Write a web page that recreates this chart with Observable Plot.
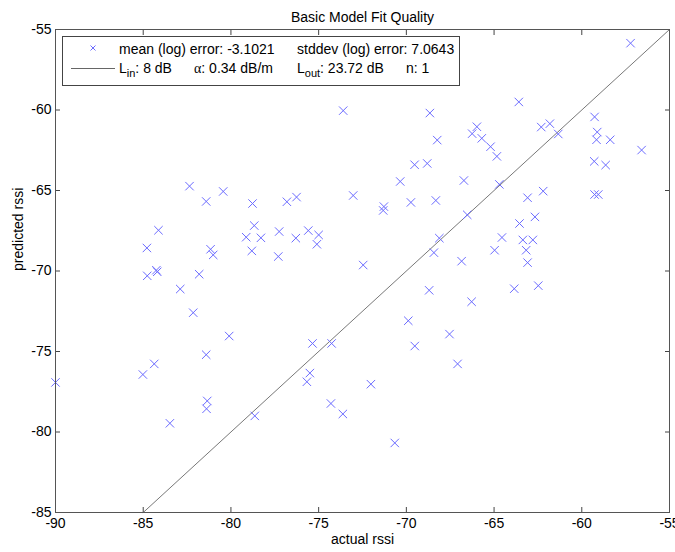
<!DOCTYPE html>
<html>
<head>
<meta charset="utf-8">
<script src="https://cdn.jsdelivr.net/npm/d3@7"></script>
<script src="https://cdn.jsdelivr.net/npm/@observablehq/plot@0.6"></script>
<style>
  body { margin: 0; background: #fff; }
  #wrap { position: relative; width: 675px; height: 552px; font-family: "Liberation Sans", Arial, sans-serif; }
  #legend { position: absolute; left: 62px; top: 36px; width: 396px; height: 48px; border: 1px solid #444; background: #fff; font-size: 14px; color: #000; }
  #legend .t { position: absolute; line-height: 16px; white-space: nowrap; }
  #legend sub { font-size: 11px; vertical-align: -4px; line-height: 0; }
  #legend .ln { position: absolute; left: 8px; top: 31px; width: 44px; height: 0; border-top: 1px solid #666; }
  #legend svg { position: absolute; left: 26px; top: 7px; }
</style>
</head>
<body>
<div id="wrap"></div>
<script>
// actual rssi (x) and predicted rssi (y)
const actual = [
  -90.0, -85.02, -84.37, -84.79, -84.77, -84.25, -84.2, -84.13, -83.48, -82.89,
  -82.36, -82.15, -81.81, -81.41, -81.41, -81.35, -81.39, -81.16, -81.01, -80.44,
  -80.1, -78.77, -78.67, -79.13, -78.29, -78.81, -78.64, -77.25, -77.3, -76.81,
  -76.26, -76.3, -75.59, -75.0, -75.1, -75.5, -75.67, -75.35, -74.26, -74.3,
  -73.62, -73.6, -73.03, -72.46, -72.02, -71.28, -71.32, -70.66, -70.35, -69.89,
  -69.74, -69.53, -69.52, -68.81, -68.66, -68.7, -68.43, -68.32, -68.24, -68.12,
  -67.54, -67.08, -66.85, -66.72, -66.53, -66.28, -66.25, -65.98, -65.7, -65.2,
  -64.84, -64.7, -64.97, -64.55, -63.85, -63.59, -63.55, -63.36, -63.17, -63.09,
  -63.09, -62.79, -62.67, -62.48, -62.31, -62.2, -61.82, -61.34, -59.27, -59.12,
  -59.16, -58.38, -59.29, -58.64, -59.27, -59.06, -56.59, -57.22
];
const predicted = [
  -76.92, -76.43, -75.77, -68.57, -70.3, -69.95, -70.05, -67.47, -79.46, -71.12,
  -64.73, -72.59, -70.2, -65.68, -75.2, -78.07, -78.56, -68.65, -69.0, -65.06,
  -74.04, -65.81, -67.18, -67.9, -67.94, -68.75, -79.0, -67.55, -69.1, -65.7,
  -65.41, -67.96, -67.49, -67.76, -68.34, -76.34, -76.88, -74.5, -74.5, -78.23,
  -78.88, -60.04, -65.31, -69.63, -77.03, -66.0, -66.24, -80.68, -64.44, -73.09,
  -65.74, -63.4, -74.66, -63.32, -60.19, -71.2, -68.86, -65.62, -61.87, -67.96,
  -73.92, -75.77, -69.39, -64.38, -66.51, -71.91, -61.47, -61.04, -61.76, -62.28,
  -62.88, -64.62, -68.71, -67.92, -71.1, -59.5, -67.05, -68.07, -68.71, -69.48,
  -65.45, -68.07, -66.64, -70.91, -61.06, -65.04, -60.85, -61.49, -60.43, -61.37,
  -61.85, -61.85, -63.19, -63.42, -65.25, -65.25, -62.49, -55.85
];
// ideal fit line y = x
const fitLine = [-85, -55];

const xTicks = [-90, -85, -80, -75, -70, -65, -60, -55];
const yTicks = [-85, -80, -75, -70, -65, -60, -55];

const title = "Basic Model Fit Quality";
const xLabel = "actual rssi";
const yLabel = "predicted rssi";
const meanErr = "-3.1021";
const stdErr = "7.0643";
const Lin = "8 dB";
const alpha = "0.34 dB/m";
const Lout = "23.72 dB";
const nVal = "1";

const points = actual.map((a, i) => ({x: a, y: predicted[i]}));
const fit = fitLine.map(v => ({x: v, y: v}));
const fmt = d => String(d);
const blank = () => "";

const chart = Plot.plot({
  width: 675,
  height: 552,
  marginLeft: 55,
  marginRight: 6,
  marginTop: 29,
  marginBottom: 40,
  style: {fontFamily: "'Liberation Sans', Arial, sans-serif", fontSize: "14px", color: "#000", background: "#fff"},
  x: {domain: [-90, -55]},
  y: {domain: [-85, -55]},
  marks: [
    Plot.line(fit, {x: "x", y: "y", stroke: "#555", strokeWidth: 0.8}),
    Plot.dot(points, {x: "x", y: "y", symbol: "times", r: 3.9, stroke: "#6b6bff", strokeWidth: 1}),
    Plot.axisX(xTicks, {anchor: "bottom", tickSize: 0, tickPadding: 6, tickFormat: fmt, label: null, fontSize: 14}),
    Plot.axisX(xTicks, {anchor: "bottom", tickSize: -5, tickFormat: blank, label: null, stroke: "#444"}),
    Plot.axisX(xTicks, {anchor: "top", tickSize: -5, tickFormat: blank, label: null, stroke: "#444"}),
    Plot.axisY(yTicks, {anchor: "left", tickSize: 0, tickPadding: 4, tickFormat: fmt, label: null, fontSize: 14}),
    Plot.axisY(yTicks, {anchor: "left", tickSize: -5, tickFormat: blank, label: null, stroke: "#444"}),
    Plot.axisY(yTicks, {anchor: "right", tickSize: -5, tickFormat: blank, label: null, stroke: "#444"}),
    Plot.frame({stroke: "#555", strokeWidth: 1}),
    Plot.text([title], {text: d => d, frameAnchor: "top", dy: -17, fontSize: 14}),
    Plot.text([xLabel], {text: d => d, frameAnchor: "bottom", dy: 31, fontSize: 14}),
    Plot.text([yLabel], {text: d => d, frameAnchor: "left", dx: -37, rotate: -90, fontSize: 14})
  ]
});

const wrap = document.getElementById("wrap");
wrap.appendChild(chart);

const legend = document.createElement("div");
legend.id = "legend";
legend.innerHTML = `
  <svg width="8" height="8" viewBox="0 0 8 8"><path d="M1.5,1.5L6.5,6.5M6.5,1.5L1.5,6.5" stroke="#6b6bff" stroke-width="1" fill="none"/></svg>
  <span class="t" style="left:56px;top:4px">mean (log) error: ${meanErr}</span>
  <span class="t" style="left:234px;top:4px">stddev (log) error: ${stdErr}</span>
  <div class="ln"></div>
  <span class="t" style="left:56px;top:23px">L<sub>in</sub>: ${Lin}</span>
  <span class="t" style="left:131px;top:23px"><span style="font-family:'Liberation Serif',serif">α</span>: ${alpha}</span>
  <span class="t" style="left:234px;top:23px">L<sub>out</sub>: ${Lout}</span>
  <span class="t" style="left:343px;top:23px">n: ${nVal}</span>
`;
wrap.appendChild(legend);
</script>
</body>
</html>
